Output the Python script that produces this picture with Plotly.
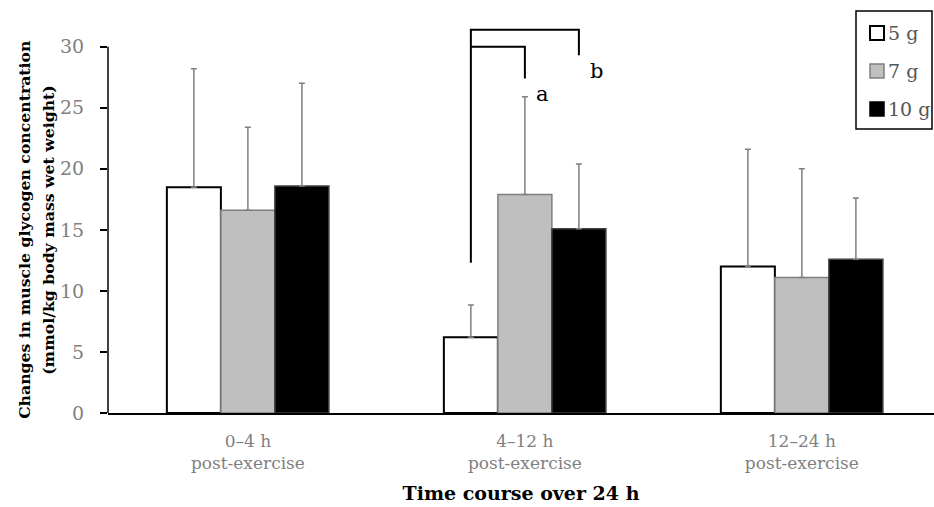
import plotly.graph_objects as go

groups = ["0–4 h", "4–12 h", "12–24 h"]
group_labels = ["0–4 h<br>post-exercise", "4–12 h<br>post-exercise", "12–24 h<br>post-exercise"]
series_names = ["5 g", "7 g", "10 g"]
means_5g = [18.5, 6.2, 12.0]
sd_5g = [9.7, 2.65, 9.6]
means_7g = [16.6, 17.9, 11.1]
sd_7g = [6.8, 8.0, 8.9]
means_10g = [18.6, 15.1, 12.6]
sd_10g = [8.4, 5.3, 5.0]
y_ticks = [0, 5, 10, 15, 20, 25, 30]
y_title_lines = ["Changes in muscle glycogen concentration", "(mmol/kg body mass wet weight)"]
x_title = "Time course over 24 h"

# significance brackets (group 4–12 h): from 5 g to target, with letter
sig_group = 1
sig_from = "5 g"
sig_targets = ["7 g", "10 g"]
sig_letters = ["a", "b"]
sig_levels = [30.0, 31.4]
sig_drop_ends = [27.4, 29.3]
sig_left_foot = 12.3

means = [means_5g, means_7g, means_10g]
sds = [sd_5g, sd_7g, sd_10g]
fills = ["#ffffff", "#bfbfbf", "#000000"]
lines = ["#000000", "#7f7f7f", "#404040"]
lwidths = [2, 1.5, 1.5]

W = 0.195
offsets = [-1.5 * W, -0.5 * W, 0.5 * W]
centers = {n: o + W / 2 for n, o in zip(series_names, offsets)}
xs = list(range(len(groups)))

serif = "DejaVu Serif"
FW, FH = 934, 507
ML, MR, MT, MB = 108, 0, 4, 94
PW, PH = FW - ML - MR, FH - MT - MB


def px(xp):
    return (xp - ML) / PW


def py(yp):
    return (FH - MB - yp) / PH


fig = go.Figure()
for i, name in enumerate(series_names):
    fig.add_trace(go.Bar(
        x=xs, y=means[i], name=name, width=W, offset=offsets[i],
        marker=dict(color=fills[i], line=dict(color=lines[i], width=lwidths[i])),
        error_y=dict(type="data", symmetric=False, array=sds[i],
                     arrayminus=[0] * len(xs), color="#7f7f7f", thickness=1.5, width=3),
        showlegend=False,
    ))

# brackets
x0 = sig_group + centers[sig_from]
for k, tgt in enumerate(sig_targets):
    x1 = sig_group + centers[tgt]
    yl = sig_levels[k]
    fig.add_trace(go.Scatter(
        x=[x0, x0, x1, x1], y=[sig_left_foot if k == len(sig_targets) - 1 else yl, yl, yl, sig_drop_ends[k]],
        mode="lines", line=dict(color="black", width=2), showlegend=False, hoverinfo="skip"))
    fig.add_annotation(x=x1, y=sig_drop_ends[k], text=sig_letters[k], showarrow=False,
                       xanchor="left", yanchor="top", xshift=9, yshift=-2,
                       font=dict(family=serif, size=21, color="black"))

# y-axis line from 0 to 30
fig.add_shape(type="line", xref="paper", yref="y", x0=0, x1=0, y0=0, y1=max(y_ticks),
              line=dict(color="black", width=1.5))

# y-axis title (two lines, centred on the 0–30 span)
for j, (txt, xc) in enumerate(zip(y_title_lines, [25, 49])):
    fig.add_annotation(xref="paper", yref="y", x=px(xc), y=max(y_ticks) / 2, text="<b>%s</b>" % txt,
                       textangle=-90, showarrow=False, xanchor="center", yanchor="middle",
                       font=dict(family=serif, size=15.7, color="black"))

# legend box (drawn manually)
fig.add_shape(type="rect", xref="paper", yref="paper", x0=px(856), x1=px(932), y0=py(129), y1=py(11),
              line=dict(color="black", width=1.5), fillcolor="white", layer="above")
for i, name in enumerate(series_names):
    yc = 33 + 38 * i
    fig.add_shape(type="rect", xref="paper", yref="paper", x0=px(870), x1=px(884),
                  y0=py(yc + 7), y1=py(yc - 7), fillcolor=fills[i],
                  line=dict(color=lines[i] if i != 2 else "#000000", width=2 if i == 0 else 1.5),
                  layer="above")
    fig.add_annotation(xref="paper", yref="paper", x=px(886), y=py(yc), text=name, showarrow=False,
                       xanchor="left", yanchor="middle",
                       font=dict(family=serif, size=19, color="#555555"))

fig.update_layout(
    width=FW, height=FH,
    margin=dict(l=ML, r=MR, t=MT, b=MB, autoexpand=False),
    plot_bgcolor="white", paper_bgcolor="white",
    barmode="overlay",
    showlegend=False,
    xaxis=dict(range=[-0.505, 2.477], tickvals=xs, ticktext=group_labels,
               showline=True, linecolor="black", linewidth=1.5, ticks="",
               tickfont=dict(family=serif, size=17, color="#7f7f7f"),
               ticklabelstandoff=12, showgrid=False, zeroline=False, automargin=False,
               title=dict(text="<b>%s</b>" % x_title, standoff=14,
                          font=dict(family=serif, size=19, color="black"))),
    yaxis=dict(range=[0, 33.5], tickvals=y_ticks, ticks="outside", ticklen=7,
               tickcolor="black", tickwidth=1.5, showline=False, showgrid=False,
               zeroline=False, ticklabelstandoff=12, automargin=False,
               tickfont=dict(family=serif, size=19, color="#7f7f7f")),
)

fig.write_html("out.html", config={"displayModeBar": False},
               post_script="document.body.style.margin='0';document.body.style.padding='0';")
